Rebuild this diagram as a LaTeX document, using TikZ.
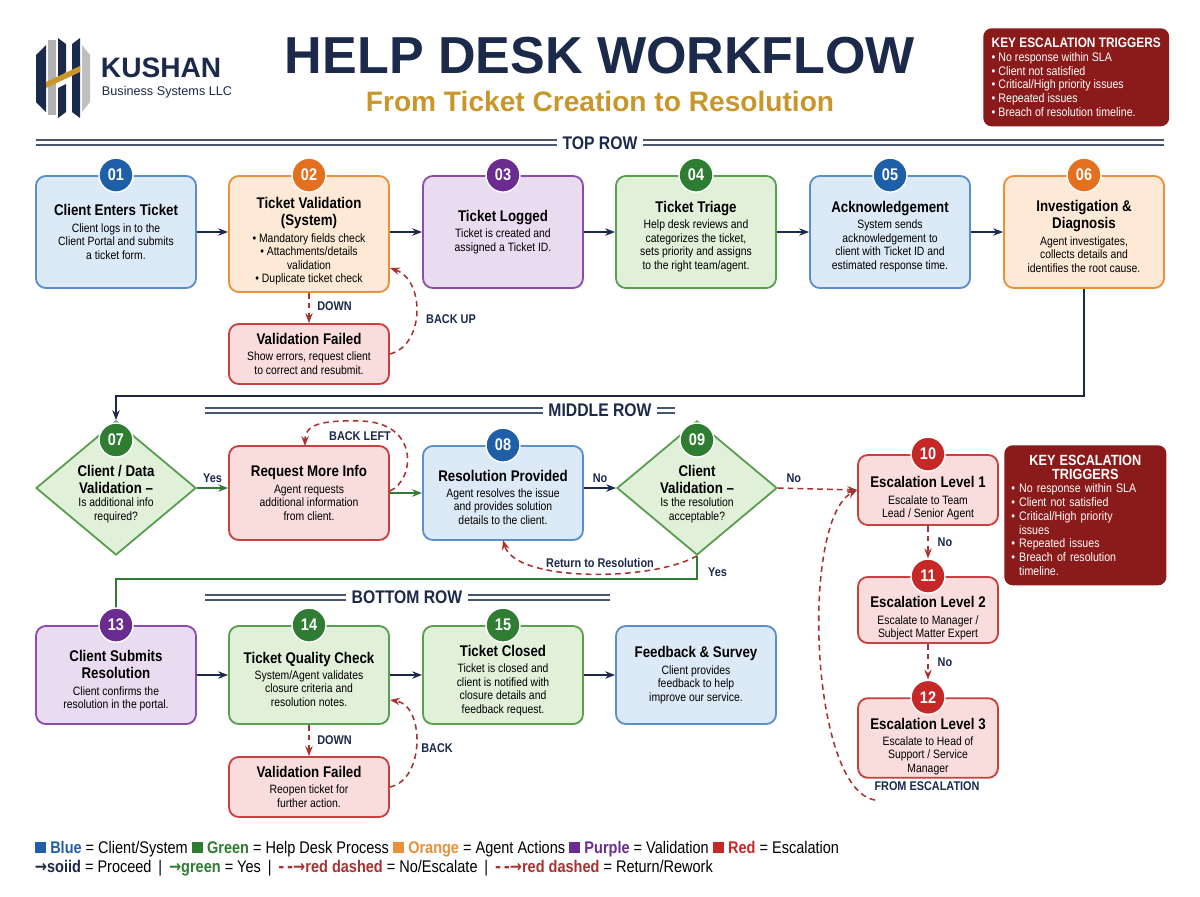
\documentclass[tikz,border=0pt]{standalone}
\usepackage{fontspec}
\setmainfont{Liberation Sans}[FakeStretch=0.86]
\newfontfamily\wide{Liberation Sans}
\newfontfamily\dv{DejaVu Sans}[FakeStretch=0.86]
\usetikzlibrary{arrows.meta,shapes.geometric,calc}
\definecolor{navy}{HTML}{1B2A4A}
\definecolor{gold}{HTML}{C9962B}
\definecolor{bF}{HTML}{DCE9F6}\definecolor{bD}{HTML}{5B8FCB}\definecolor{bB}{HTML}{1F5FA8}
\definecolor{oF}{HTML}{FDE9D6}\definecolor{oD}{HTML}{E8913A}\definecolor{oB}{HTML}{E2701E}
\definecolor{pF}{HTML}{E9DCF0}\definecolor{pD}{HTML}{8A4DAE}\definecolor{pB}{HTML}{6A2C91}
\definecolor{gF}{HTML}{E0F0D9}\definecolor{gD}{HTML}{5A9E4F}\definecolor{gB}{HTML}{2E7D32}
\definecolor{rF}{HTML}{F9DCDC}\definecolor{rD}{HTML}{C94040}\definecolor{rB}{HTML}{C62828}
\definecolor{dred}{HTML}{8B1A1A}\definecolor{dashred}{HTML}{A83232}
\newcommand{\bd}{\fontsize{8.6}{9.6}\selectfont}
\tikzset{
 box/.style={draw=#1D,fill=#1F,line width=1.3pt,rounded corners=7pt,minimum width=4cm,align=flush center,text width=3.8cm,inner sep=2pt,font=\bd},
 badge/.style={circle,fill=#1B,draw=white,line width=1pt,minimum size=0.85cm,inner sep=0pt,text=white,font=\bfseries\fontsize{12}{12}\selectfont},
 dia/.style={diamond,draw=gD,fill=gF,line width=1.3pt,minimum width=4cm,minimum height=3.35cm,inner sep=0pt},
 arr/.style={-{Stealth[length=7pt]},line width=1.3pt,draw=navy},
 garr/.style={-{Stealth[length=7pt]},line width=1.3pt,draw=gB},
 rarr/.style={-{Stealth[length=7pt]},line width=1.1pt,draw=dashred,dashed,dash pattern=on 4pt off 3pt},
 lbl/.style={font=\bfseries\fontsize{9}{10}\selectfont,text=navy},
 sec/.style={font=\bfseries\fontsize{13}{13}\selectfont,text=navy,fill=white,inner sep=4pt},
}
\newcommand{\ti}[1]{{\bfseries\fontsize{11}{12.5}\selectfont #1\par}\vspace{2pt}}
\newcommand{\st}[1]{\rule{0pt}{#1pt}}
\begin{document}
\begin{tikzpicture}[x=0.025cm,y=-0.025cm]
\useasboundingbox[fill=white] (0,0) rectangle (1200,896);
% logo
\fill[navy] (36,55) -- (46,45) -- (46,112) -- (36,102) -- cycle;
\fill[gray!60] (48,40) -- (56,40) -- (56,115) -- (48,115) -- cycle;
\fill[navy] (58,38) -- (66,44) -- (66,72) -- (58,78) -- cycle;
\fill[navy] (58,88) -- (66,84) -- (66,112) -- (58,118) -- cycle;
\fill[navy] (72,44) -- (80,38) -- (80,118) -- (72,112) -- cycle;
\fill[gray!50] (82,45) -- (90,55) -- (90,102) -- (82,112) -- cycle;
\fill[gold] (46,82) -- (80,66) -- (80,72) -- (46,88) -- cycle;
\node[anchor=west,text=navy,font=\wide\bfseries\fontsize{20}{20}\selectfont] (logo) at (96,68) {KUSHAN};
\node[anchor=west,text=navy,font=\wide\fontsize{9}{9}\selectfont] (logo2) at (97,92) {Business Systems LLC};
% title
\node[text=navy,font=\wide\bfseries\fontsize{37}{37}\selectfont] (title) at (600,56) {HELP DESK WORKFLOW};
\node[text=gold,font=\wide\bfseries\fontsize{20}{20}\selectfont] (sub) at (600,101) {From Ticket Creation to Resolution};
% key triggers top
\node[fill=dred,rounded corners=6pt,minimum width=4.6cm,minimum height=2.45cm,text=white,align=left,anchor=north west,inner sep=6pt,font=\fontsize{8.8}{9.8}\selectfont] (kt1) at (983,28) {{\bfseries\fontsize{9.8}{11}\selectfont KEY ESCALATION TRIGGERS}\\
 \textbullet\ No response within SLA\\ \textbullet\ Client not satisfied\\ \textbullet\ Critical/High priority issues\\ \textbullet\ Repeated issues\\ \textbullet\ Breach of resolution timeline.};
% section headers
\foreach \yy in {140,145} \draw[navy!80,line width=1.1pt] (36,\yy) -- (1164,\yy);
\node[sec] (top) at (600,143) {TOP ROW};
\foreach \yy in {408,413} \draw[navy!80,line width=1.1pt] (205,\yy) -- (675,\yy);
\node[sec] (mid) at (600,410) {MIDDLE ROW};
\foreach \yy in {595,600} \draw[navy!80,line width=1.1pt] (205,\yy) -- (610,\yy);
\node[sec] (bot) at (407,597) {BOTTOM ROW};
% top row
\node[box=b,minimum height=2.8cm] (b01) at (116,232) {\ti{Client Enters Ticket}Client logs in to the\\Client Portal and submits\\a ticket form.};
\node[box=o,minimum height=2.9cm] (b02) at (309,234) {\ti{\st{18}Ticket Validation\\(System)}\textbullet\ Mandatory fields check\\ \textbullet\ Attachments/details\\validation\\ \textbullet\ Duplicate ticket check};
\node[box=r,minimum height=1.5cm] (vf1) at (309,354) {\ti{Validation Failed}Show errors, request client\\to correct and resubmit.};
\node[box=p,minimum height=2.8cm] (b03) at (503,232) {\ti{Ticket Logged}Ticket is created and\\assigned a Ticket ID.\\[18pt]};
\node[box=g,minimum height=2.8cm] (b04) at (696,232) {\ti{\st{14}Ticket Triage}Help desk reviews and\\categorizes the ticket,\\sets priority and assigns\\to the right team/agent.};
\node[box=b,minimum height=2.8cm] (b05) at (890,232) {\ti{\st{14}Acknowledgement}System sends\\acknowledgement to\\client with Ticket ID and\\estimated response time.};
\node[box=o,minimum height=2.8cm] (b06) at (1084,232) {\ti{\st{14}Investigation \&\\Diagnosis}Agent investigates,\\collects details and\\identifies the root cause.};
\foreach \n/\c/\t in {b01/b/01,b02/o/02,b03/p/03,b04/g/04,b05/b/05,b06/o/06} \node[badge=\c] (k\n) at (\n.north) {\t};
% middle row
\node[dia] (d07) at (116,488) {};
\node[align=flush center,text width=2.6cm,font=\bd] (t07) at (116,494) {{\bfseries\fontsize{11}{12}\selectfont Client / Data\\Validation --\par}Is additional info\\required?};
\node[badge=g] (k07) at (116,440) {07};
\node[box=r,minimum height=2.35cm] (rmi) at (309,493) {\ti{Request More Info}Agent requests\\additional information\\from client.};
\node[box=b,minimum height=2.35cm] (b08) at (503,493) {\ti{\st{14}Resolution Provided}Agent resolves the issue\\and provides solution\\details to the client.};
\node[badge=b] (k08) at (b08.north) {08};
\node[dia] (d09) at (697,488) {};
\node[align=flush center,text width=2.6cm,font=\bd] (t09) at (697,494) {{\bfseries\fontsize{11}{12}\selectfont Client\\Validation --\par}Is the resolution\\acceptable?};
\node[badge=g] (k09) at (697,440) {09};
% escalation
\node[box=r,minimum width=3.5cm,text width=3.3cm,minimum height=1.75cm] (b10) at (928,490) {\ti{\st{20}Escalation Level 1}Escalate to Team\\Lead / Senior Agent};
\node[box=r,minimum width=3.5cm,text width=3.3cm,minimum height=1.6cm] (b11) at (928,610) {\ti{\st{20}Escalation Level 2}Escalate to Manager /\\Subject Matter Expert};
\node[box=r,minimum width=3.5cm,text width=3.3cm,minimum height=1.9cm] (b12) at (928,738) {\ti{\st{20}Escalation Level 3}Escalate to Head of\\Support / Service\\Manager};
\foreach \n/\t in {b10/10,b11/11,b12/12} \node[badge=r] (k\n) at (\n.north) {\t};
\node[fill=dred,rounded corners=6pt,minimum width=4.05cm,minimum height=3.5cm,text=white,align=left,anchor=north west,inner sep=5pt,font=\fontsize{8.8}{9.8}\selectfont,text width=3.7cm] (kt2) at (1004,445) {\centering{\bfseries\fontsize{10.5}{11.5}\selectfont KEY ESCALATION\\TRIGGERS}\par\raggedright
 \textbullet\ No response within SLA\\ \textbullet\ Client not satisfied\\ \textbullet\ Critical/High priority\\ \phantom{\textbullet\ }issues\\ \textbullet\ Repeated issues\\ \textbullet\ Breach of resolution\\ \phantom{\textbullet\ }timeline.};
% bottom row
\node[box=p,minimum height=2.45cm] (b13) at (116,675) {\ti{\st{16}Client Submits\\Resolution}Client confirms the\\resolution in the portal.};
\node[box=g,minimum height=2.45cm] (b14) at (309,675) {\ti{\st{14}Ticket Quality Check}System/Agent validates\\closure criteria and\\resolution notes.};
\node[box=g,minimum height=2.45cm] (b15) at (503,675) {\ti{\st{16}Ticket Closed}Ticket is closed and\\client is notified with\\closure details and\\feedback request.};
\node[box=b,minimum height=2.45cm] (bfb) at (696,675) {\ti{Feedback \& Survey}Client provides\\feedback to help\\improve our service.};
\node[box=r,minimum height=1.5cm] (vf2) at (309,787) {\ti{Validation Failed}Reopen ticket for\\further action.};
% connectors
\draw[arr] (b01.east) -- (b02.west |- b01.east);
\draw[arr] (b02.east |- b03.west) -- (b03.west);
\draw[arr] (b03.east) -- (b04.west);
\draw[arr] (b04.east) -- (b05.west);
\draw[arr] (b05.east) -- (b06.west);
\draw[rarr] (b02.south) -- node[lbl,right=2pt,pos=0.45]{DOWN} (vf1.north);
\draw[rarr] (vf1.east) .. controls (425,345) and (425,280) .. (b02.east |- 0,268);
\node[lbl] (bu) at (451,319) {BACK UP};
\draw[arr] (b06.south) |- ($(d07.north)+(0,-24)$) -- (d07.north);
\draw[garr] (d07.east) -- node[lbl,above]{Yes} (rmi.west |- d07.east);
\draw[garr] (rmi.east) -- (b08.west |- rmi.east);
\draw[rarr] ($(rmi.east)+(0,-2)$) .. controls (415,480) and (420,422) .. (360,421) .. controls (320,420) and (305,425) .. (305,446);
\node[lbl] (bl) at (360,436) {BACK LEFT};
\draw[arr] (b08.east |- d09.west) -- node[lbl,above]{No} (d09.west);
\draw[rarr] (d09.south) .. controls (650,582) and (515,582) .. (503,540);
\node[lbl,fill=white,inner sep=1pt] (rr) at (600,563) {Return to Resolution};
\draw[rarr] (d09.east) -- node[lbl,above,pos=0.2]{No} (b10.west);
\draw[rarr] (b10.south) -- node[lbl,right=3pt]{No} (kb11.north);
\draw[rarr] (b11.south) -- node[lbl,right=3pt]{No} (kb12.north);
\draw[rarr] (875,800) .. controls (810,790) and (800,520) .. (b10.west);
\node[lbl] (fe) at (927,786) {FROM ESCALATION};
\draw[garr] (d09.south) -- node[lbl,right=4pt,pos=0.7]{Yes} (697,579) -- (116,579) -- (b13.north);
\draw[arr] (b13.east) -- (b14.west);
\draw[arr] (b14.east) -- (b15.west);
\draw[arr] (b15.east) -- (bfb.west);
\draw[rarr] (b14.south) -- node[lbl,right=2pt]{DOWN} (vf2.north);
\draw[rarr] (vf2.east) .. controls (425,780) and (425,705) .. (b14.east |- 0,700);
\node[lbl] (bk) at (437,748) {BACK};
\foreach \n/\c/\t in {b13/p/13,b14/g/14,b15/g/15} \node[badge=\c] (k\n) at (\n.north) {\t};
% legend
\node[anchor=west,font=\fontsize{12}{13}\selectfont] (lg1) at (30,849) {\textcolor{bB}{\rule{8pt}{8pt} \bfseries Blue} = Client/System \textcolor{gB}{\rule{8pt}{8pt} \bfseries Green} = Help Desk Process \textcolor{oD}{\rule{8pt}{8pt} \bfseries Orange} = Agent Actions \textcolor{pB}{\rule{8pt}{8pt} \bfseries Purple} = Validation \textcolor{rB}{\rule{8pt}{8pt} \bfseries Red} = Escalation};
\node[anchor=west,font=\fontsize{12}{13}\selectfont] (lg2) at (30,868) {\textcolor{navy}{{\dv\bfseries →}\bfseries soiid} = Proceed \,|\, \textcolor{gB}{{\dv\bfseries →}\bfseries green} = Yes \,|\, \textcolor{dashred}{{\dv\bfseries -\,-→}\bfseries red dashed} = No/Escalate \,|\, \textcolor{dashred}{{\dv\bfseries -\,-→}\bfseries red dashed} = Return/Rework};
\end{tikzpicture}
\end{document}
